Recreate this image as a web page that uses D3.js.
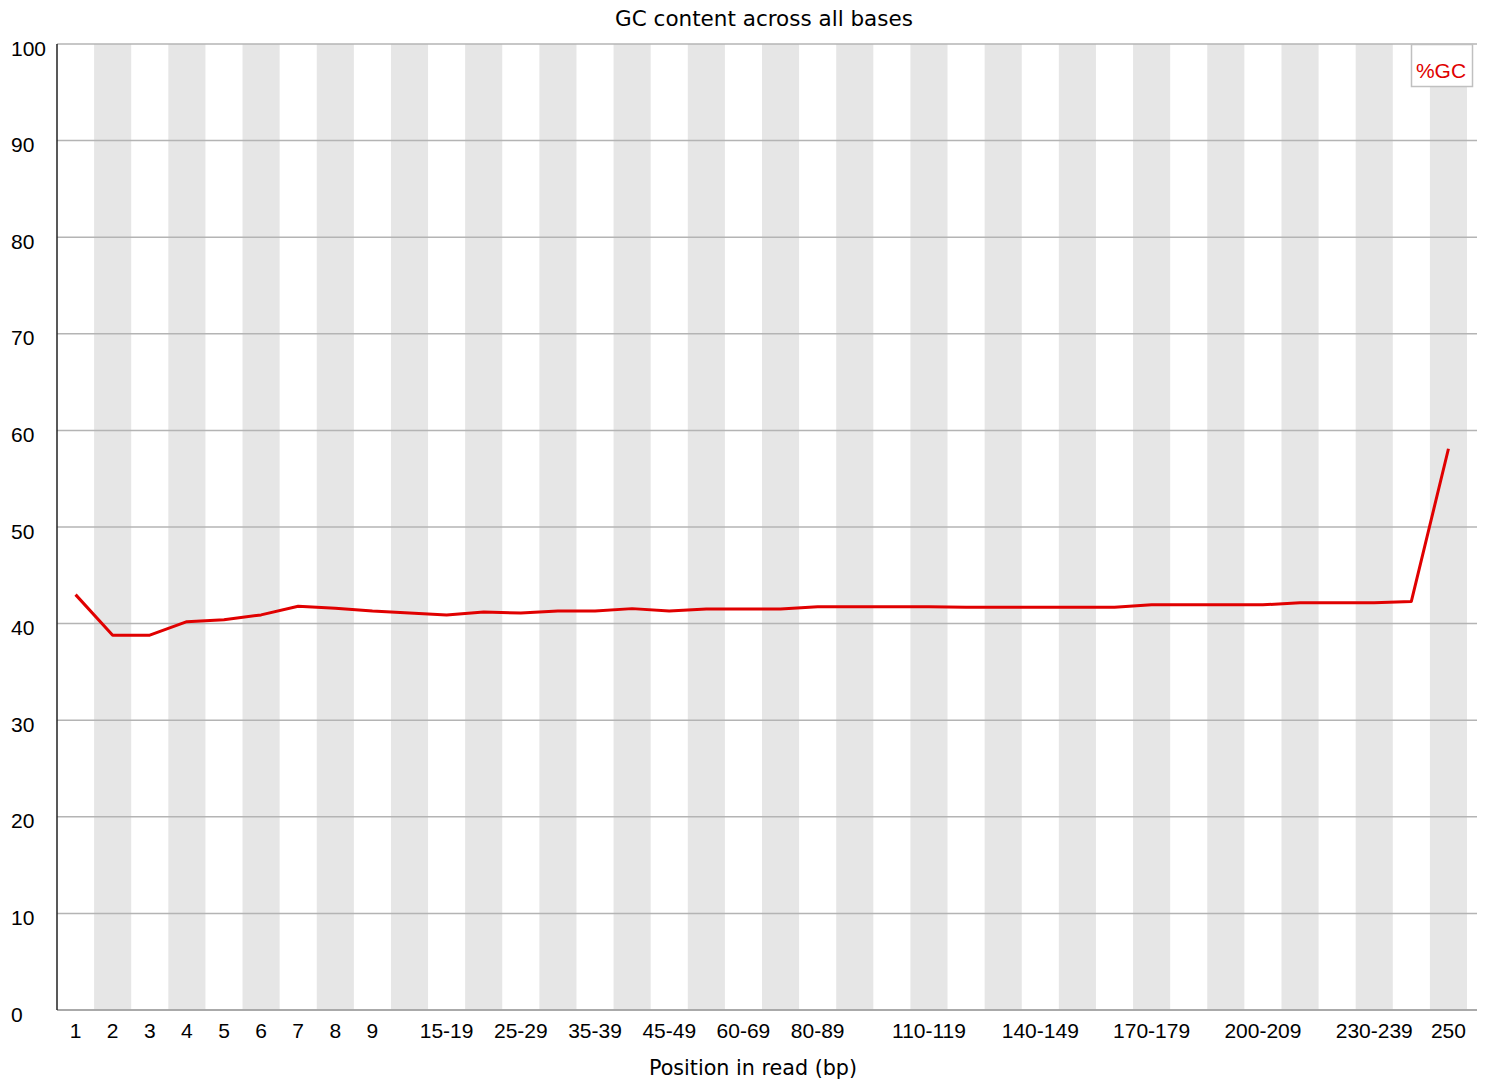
<!DOCTYPE html>
<html>
<head>
<meta charset="utf-8">
<script src="https://cdn.jsdelivr.net/npm/d3@7"></script>
<style>
  html, body { margin: 0; padding: 0; background: #fff; }
  svg { display: block; }
</style>
</head>
<body>
<svg id="chart" width="1491" height="1084"></svg>
<script>
const categories = ["1","2","3","4","5","6","7","8","9","10-14","15-19","20-24","25-29","30-34","35-39","40-44","45-49","50-59","60-69","70-79","80-89","90-99","100-109","110-119","120-129","130-139","140-149","150-159","160-169","170-179","180-189","190-199","200-209","210-219","220-229","230-239","240-249","250"];
const gcValues = [43.0,38.8,38.8,40.2,40.4,40.9,41.8,41.6,41.3,41.1,40.9,41.2,41.1,41.3,41.3,41.55,41.3,41.5,41.5,41.5,41.75,41.75,41.75,41.75,41.7,41.7,41.7,41.7,41.7,41.95,41.95,41.95,41.95,42.15,42.15,42.15,42.3,58.1];
const shownXLabels = ["1","2","3","4","5","6","7","8","9","15-19","25-29","35-39","45-49","60-69","80-89","110-119","140-149","170-179","200-209","230-239","250"];
const yTicks = [0,10,20,30,40,50,60,70,80,90,100];
const seriesName = "%GC";

(function () {
const pLeft = 57, pRight = 1467, gridRight = 1477, pTop = 44, pBottom = 1010;
const svg = d3.select("#chart");

const x = d3.scaleBand().domain(categories).range([pLeft, pRight]).padding(0);
const y = d3.scaleLinear().domain([0, 100]).range([pBottom, pTop]);
const bw = x.bandwidth();

// stripes
svg.append("g").selectAll("rect")
  .data(categories.filter((d, i) => i % 2 === 1))
  .join("rect")
  .attr("x", d => x(d))
  .attr("y", pTop)
  .attr("width", bw)
  .attr("height", pBottom - pTop)
  .attr("fill", "#e6e6e6");

// gridlines
svg.append("g").selectAll("line")
  .data(yTicks)
  .join("line")
  .attr("x1", pLeft).attr("x2", gridRight)
  .attr("y1", d => y(d)).attr("y2", d => y(d))
  .attr("stroke", "#b4b4b4").attr("stroke-width", 1.5);

// y axis
const yAxis = svg.append("g")
  .attr("transform", `translate(${pLeft},0)`)
  .call(d3.axisLeft(y).tickValues(yTicks).tickSize(0));
yAxis.select(".domain").remove();
yAxis.selectAll("text")
  .attr("x", 11 - pLeft)
  .attr("dy", 11)
  .attr("text-anchor", "start")
  .attr("fill", "#000")
  .style("font-family", "'Liberation Sans', Arial, sans-serif")
  .style("font-size", "21px");

// x axis
const xAxis = svg.append("g")
  .attr("transform", `translate(0,${pBottom})`)
  .call(d3.axisBottom(x).tickSize(0).tickFormat(d => shownXLabels.includes(d) ? d : ""));
xAxis.select(".domain").remove();
xAxis.selectAll("text")
  .attr("y", 28)
  .attr("dy", 0)
  .attr("fill", "#000")
  .style("font-family", "'Liberation Sans', Arial, sans-serif")
  .style("font-size", "21px");

// axis lines
svg.append("line")
  .attr("x1", pLeft).attr("x2", gridRight)
  .attr("y1", pBottom).attr("y2", pBottom)
  .attr("stroke", "#a0a0a0").attr("stroke-width", 1.5);
svg.append("line")
  .attr("x1", pLeft).attr("x2", pLeft)
  .attr("y1", pTop).attr("y2", pBottom)
  .attr("stroke", "#222").attr("stroke-width", 1.5);

// data line
const line = d3.line()
  .x((d, i) => x(categories[i]) + bw / 2)
  .y(d => y(d));
svg.append("path")
  .datum(gcValues)
  .attr("d", line)
  .attr("fill", "none")
  .attr("stroke", "#e00000")
  .attr("stroke-width", 3)
  .attr("stroke-linejoin", "round");

// title
svg.append("text")
  .attr("x", 764).attr("y", 26)
  .attr("text-anchor", "middle")
  .style("font-family", "'DejaVu Sans', sans-serif")
  .style("font-size", "21.5px")
  .attr("fill", "#000")
  .text("GC content across all bases");

svg.append("text")
  .attr("x", 753).attr("y", 1075)
  .attr("text-anchor", "middle")
  .style("font-family", "'DejaVu Sans', sans-serif")
  .style("font-size", "20.7px")
  .attr("fill", "#000")
  .text("Position in read (bp)");

// legend
svg.append("rect")
  .attr("x", 1411.5).attr("y", 44.5)
  .attr("width", 61).attr("height", 42)
  .attr("fill", "#fff")
  .attr("stroke", "#c0c0c0").attr("stroke-width", 1.5);
svg.append("text")
  .attr("x", 1441).attr("y", 78)
  .attr("text-anchor", "middle")
  .style("font-family", "'Liberation Sans', Arial, sans-serif")
  .style("font-size", "21px")
  .attr("fill", "#e00000")
  .text(seriesName);
})();
</script>
</body>
</html>
